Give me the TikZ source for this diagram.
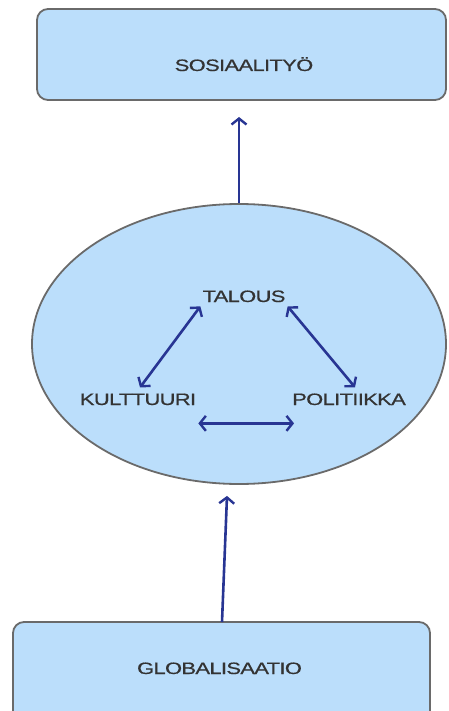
\documentclass[tikz,border=0pt]{standalone}
\usepackage{fontspec}
\setmainfont{Liberation Sans}[FakeStretch=1.33,FakeBold=0.6,LetterSpace=-4]
\usetikzlibrary{shapes.geometric,arrows.meta,calc}
\definecolor{boxfill}{HTML}{BBDEFB}
\definecolor{boxline}{HTML}{6A6A6A}
\definecolor{arrowblue}{HTML}{283593}
\definecolor{txtgray}{HTML}{333333}
\begin{document}
\begin{tikzpicture}[x=1pt,y=-1pt,
  box/.style={draw=boxline,line width=1.8pt,fill=boxfill,rounded corners=11pt},
  lbl/.style={font=\fontsize{16.5}{18}\selectfont,text=txtgray,anchor=base,inner sep=2pt},
  conn/.style={draw=arrowblue,line width=2.6pt,-{Straight Barb[length=6pt,width=15pt,line width=2.4pt]}},
  bconn/.style={draw=arrowblue,line width=2.6pt,{Straight Barb[length=6pt,width=15pt,line width=2.4pt]}-{Straight Barb[length=6pt,width=15pt,line width=2.4pt]}}]
\useasboundingbox (0,0) rectangle (448,711);
% boxes
\draw[box] (37,9) rectangle (446,100);
\coordinate (topS) at (239,100);
\node[lbl] (sos) at (244,71) {SOSIAALITYÖ};
\draw[box] (13,622) rectangle (430,724);
\coordinate (globN) at (222,622);
\node[lbl] (glob) at (219.5,674) {GLOBALISAATIO};
% ellipse
\node[ellipse,draw=boxline,line width=1.8pt,fill=boxfill,minimum width=414pt,minimum height=280pt,inner sep=0pt] (ell) at (239,344) {};
\node[lbl] (tal) at (244,302) {TALOUS};
\node[lbl] (kul) at (138,405) {KULTTUURI};
\node[lbl] (pol) at (349,405) {POLITIIKKA};
% connectors
\draw[conn,shorten >=17pt] (ell.north) -- (topS);
\draw[conn] (globN) -- ($(ell.south)+(-12,11)$);
\draw[bconn] ($(tal.south west)+(0,2)$) -- ($(kul.north)+(2,-4)$);
\draw[bconn] ($(tal.south east)+(0,2)$) -- ($(pol.north)+(6,-4)$);
\draw[bconn] ($(kul.south east)+(0,16)$) -- ($(pol.south west)+(4,16)$);
\end{tikzpicture}
\end{document}
